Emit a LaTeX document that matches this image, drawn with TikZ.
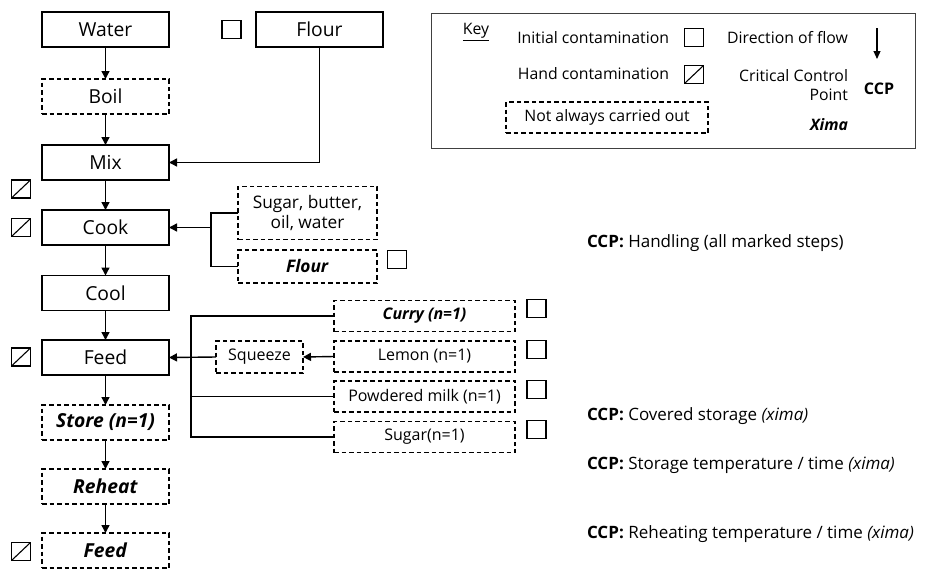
\documentclass[tikz,border=0pt]{standalone}
\usepackage{fontspec}
\setmainfont{Open Sans}
\usetikzlibrary{arrows.meta}
\begin{document}
\begin{tikzpicture}[x=1pt,y=-1pt,
  every node/.style={inner sep=0pt,outer sep=0pt},
  lw/.style={line width=1.4pt},
  box/.style={draw,lw,minimum width=127pt,minimum height=35pt,font=\fontsize{19.3}{21}\selectfont},
  dbox/.style={box,dash pattern=on 4.5pt off 3pt},
  ing/.style={draw,lw,dash pattern=on 4.5pt off 3pt,minimum width=181pt,minimum height=31pt,font=\fontsize{16}{18}\selectfont},
  sq/.style={draw,line width=1.1pt,minimum width=19pt,minimum height=18pt},
  arr/.style={lw,-{Triangle[length=8pt,width=8pt]}},
  ln/.style={lw},
  keytxt/.style={font=\fontsize{15.8}{19.5}\selectfont},
  ccp/.style={anchor=west,font=\fontsize{17}{20}\selectfont}
]
\useasboundingbox (0,0) rectangle (928,568);
% main column
\node[box]  (water)  at (105.5,29.5) {Water};
\node[box]  (flour)  at (319.5,29.5) {Flour};
\node[sq]   (sqflour) at (231.5,29.5) {};
\node[dbox] (boil)   at (105.5,96.5) {Boil};
\node[box]  (mix)    at (105.5,162.5) {Mix};
\node[box]  (cook)   at (105.5,227.5) {Cook};
\node[box]  (cool)   at (105.5,293) {Cool};
\node[box]  (feed)   at (105.5,357.5) {Feed};
\node[dbox] (store)  at (105.5,422.5) {\textbf{\textit{Store (n=1)}}};
\node[dbox] (reheat) at (105.5,486.5) {\textbf{\textit{Reheat}}};
\node[dbox] (feedb)  at (105.5,550.5) {\textbf{\textit{Feed}}};
% hand contamination icons
\foreach \n/\y in {hmix/189, hcook/227.5, hfeed/357, hfeedb/551.5}{
  \node[sq] (\n) at (21,\y) {};
  \draw[line width=1.1pt] (\n.south west) -- (\n.north east);
}
% cook ingredients
\node[draw,lw,dash pattern=on 4.5pt off 3pt,minimum width=139pt,minimum height=53pt,align=center,font=\fontsize{17.3}{20}\selectfont] (sugarb) at (307.5,213) {Sugar, butter,\\oil, water};
\node[draw,lw,dash pattern=on 4.5pt off 3pt,minimum width=139pt,minimum height=33pt,font=\fontsize{17.3}{20}\selectfont] (flourb) at (307.5,266.5) {\textbf{\textit{Flour}}};
\node[sq] (sqflourb) at (397,259.5) {};
% feed ingredients
\node[ing] (curry) at (424.5,316) {\textbf{\textit{Curry (n=1)}}};
\node[ing] (lemon) at (424.5,356.5) {Lemon (n=1)};
\node[ing] (milk)  at (424.5,396.5) {Powdered milk (n=1)};
\node[ing] (sugar) at (424.5,437) {Sugar(n=1)};
\node[sq] (sqcurry) at (536.5,308.5) {};
\node[sq] (sqlemon) at (536.5,349.5) {};
\node[sq] (sqmilk)  at (536.5,389.5) {};
\node[sq] (sqsugar) at (536.5,429.5) {};
\node[draw,lw,dash pattern=on 4.5pt off 3pt,minimum width=87pt,minimum height=32pt,font=\fontsize{16}{18}\selectfont] (squeeze) at (259.5,357) {Squeeze};
% connectors
\draw[arr] (water) -- (boil);
\draw[arr] (boil) -- (mix);
\draw[arr] (flour.south) |- (mix.east);
\draw[arr] (mix) -- (cook);
\draw[arr] (cook) -- (cool);
\draw[arr] (cool) -- (feed);
\draw[arr] (feed) -- (store);
\draw[arr] (store) -- (reheat);
\draw[arr] (reheat) -- (feedb);
\coordinate (cj) at (211,227.5);
\draw[ln] (sugarb.west) -| (cj) |- (flourb.west);
\draw[arr] (cj) -- (cook.east);
\coordinate (fjt) at (191,316);
\coordinate (fjb) at (191,437);
\draw[ln] (curry.west) -- (fjt) -- (fjb) -- (sugar.west);
\draw[ln] (milk.west) -- (fjb |- milk.west);
\draw[arr] (lemon.west) -- (squeeze.east);
\draw[arr] (squeeze.west) -- (feed.east);
% key
\node[draw=black!75,line width=1pt,minimum width=484pt,minimum height=135pt] (keybox) at (673,80.5) {};
\node[keytxt] (keylbl) at (476,32) {\underline{Key}};
\node[keytxt,anchor=east] (kinit) at (669,38) {Initial contamination};
\node[sq] (ksq1) at (694,37.5) {};
\node[keytxt,anchor=east] (khand) at (669,74) {Hand contamination};
\node[sq] (ksq2) at (694,74.5) {};
\draw[line width=1.1pt] (ksq2.south west) -- (ksq2.north east);
\node[draw,lw,dash pattern=on 4.5pt off 3pt,minimum width=202pt,minimum height=31pt,keytxt] (knot) at (607,117.5) {Not always carried out};
\node[keytxt,anchor=east] (kdir) at (848,38) {Direction of flow};
\coordinate (ka) at (877,28);
\coordinate (kb) at (877,59);
\draw[line width=1.1pt,-{Triangle[length=8pt,width=7pt]}] (ka) -- (kb);
\node[keytxt,anchor=east,align=right] (kccp) at (848,85) {Critical Control\\Point};
\node[keytxt,font=\fontsize{16}{19}\selectfont\bfseries] (kccpb) at (879,89) {CCP};
\node[keytxt,anchor=east] (kxima) at (848,125) {\textbf{\textit{Xima}}};
% right texts
\node[ccp] (c1) at (587,243) {\textbf{CCP:} Handling (all marked steps)};
\node[ccp] (c2) at (587,416) {\textbf{CCP:} Covered storage \textit{(xima)}};
\node[ccp] (c3) at (587,465) {\textbf{CCP:} Storage temperature / time \textit{(xima)}};
\node[ccp] (c4) at (587,534) {\textbf{CCP:} Reheating temperature / time \textit{(xima)}};
\end{tikzpicture}
\end{document}
